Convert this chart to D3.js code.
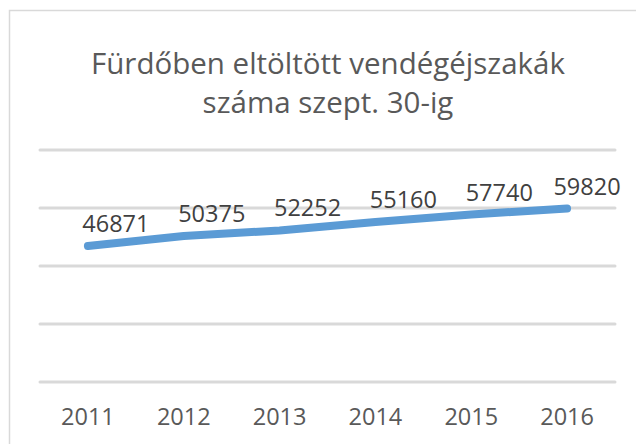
<!DOCTYPE html>
<html>
<head>
<meta charset="utf-8">
<script src="https://cdn.jsdelivr.net/npm/d3@7"></script>
<style>
  body { margin: 0; background: #fff; }
  text { font-family: "Open Sans", "Liberation Sans", sans-serif; }
</style>
</head>
<body>
<div id="chart"></div>
<script>
const years = ["2011", "2012", "2013", "2014", "2015", "2016"];
const nights = [46871, 50375, 52252, 55160, 57740, 59820];
const yTicks = [0, 20000, 40000, 60000, 80000];
const titleLines = ["Fürdőben eltöltött vendégéjszakák", "száma szept. 30-ig"];

const width = 636, height = 444;
const plot = { left: 40, right: 615, top: 150, bottom: 382 };

const svg = d3.select("#chart").append("svg")
  .attr("width", width)
  .attr("height", height);

// chart frame (only left and top edges are visible in the crop)
svg.append("rect")
  .attr("x", 9.5).attr("y", 10.5)
  .attr("width", 700).attr("height", 500)
  .attr("fill", "none")
  .attr("stroke", "#d9d9d9")
  .attr("stroke-width", 1.5);

// title
svg.append("text")
  .attr("text-anchor", "middle")
  .attr("fill", "#595959")
  .style("font-size", "29.5px")
  .selectAll("tspan")
  .data(titleLines)
  .join("tspan")
  .attr("x", 328)
  .attr("y", (d, i) => 74 + i * 39)
  .text(d => d);

const x = d3.scaleBand()
  .domain(years)
  .range([plot.left, plot.right]);

const y = d3.scaleLinear()
  .domain([0, 80000])
  .range([plot.bottom, plot.top]);

// gridlines
svg.append("g")
  .selectAll("line")
  .data(yTicks)
  .join("line")
  .attr("x1", plot.left)
  .attr("x2", plot.right)
  .attr("y1", d => y(d))
  .attr("y2", d => y(d))
  .attr("stroke", "#d9d9d9")
  .attr("stroke-width", 3)
  .attr("stroke-linecap", "round");

// category axis labels
svg.append("g")
  .selectAll("text")
  .data(years)
  .join("text")
  .attr("x", d => x(d) + x.bandwidth() / 2)
  .attr("y", 425)
  .attr("text-anchor", "middle")
  .attr("fill", "#595959")
  .style("font-size", "23.5px")
  .text(d => d);

const cx = (d, i) => x(years[i]) + x.bandwidth() / 2;

const line = d3.line()
  .x(cx)
  .y(d => y(d));

svg.append("path")
  .datum(nights)
  .attr("d", line)
  .attr("fill", "none")
  .attr("stroke", "#5b9bd5")
  .attr("stroke-width", 8)
  .attr("stroke-linecap", "round")
  .attr("stroke-linejoin", "round");

// data labels, above and to the right of each point, kept inside the plot
svg.append("g")
  .selectAll("text")
  .data(nights)
  .join("text")
  .attr("x", (d, i) => Math.min(cx(d, i) + 28, plot.right - 28))
  .attr("y", d => y(d) - 14)
  .attr("text-anchor", "middle")
  .attr("fill", "#404040")
  .style("font-size", "23.5px")
  .text(d => d);
</script>
</body>
</html>
